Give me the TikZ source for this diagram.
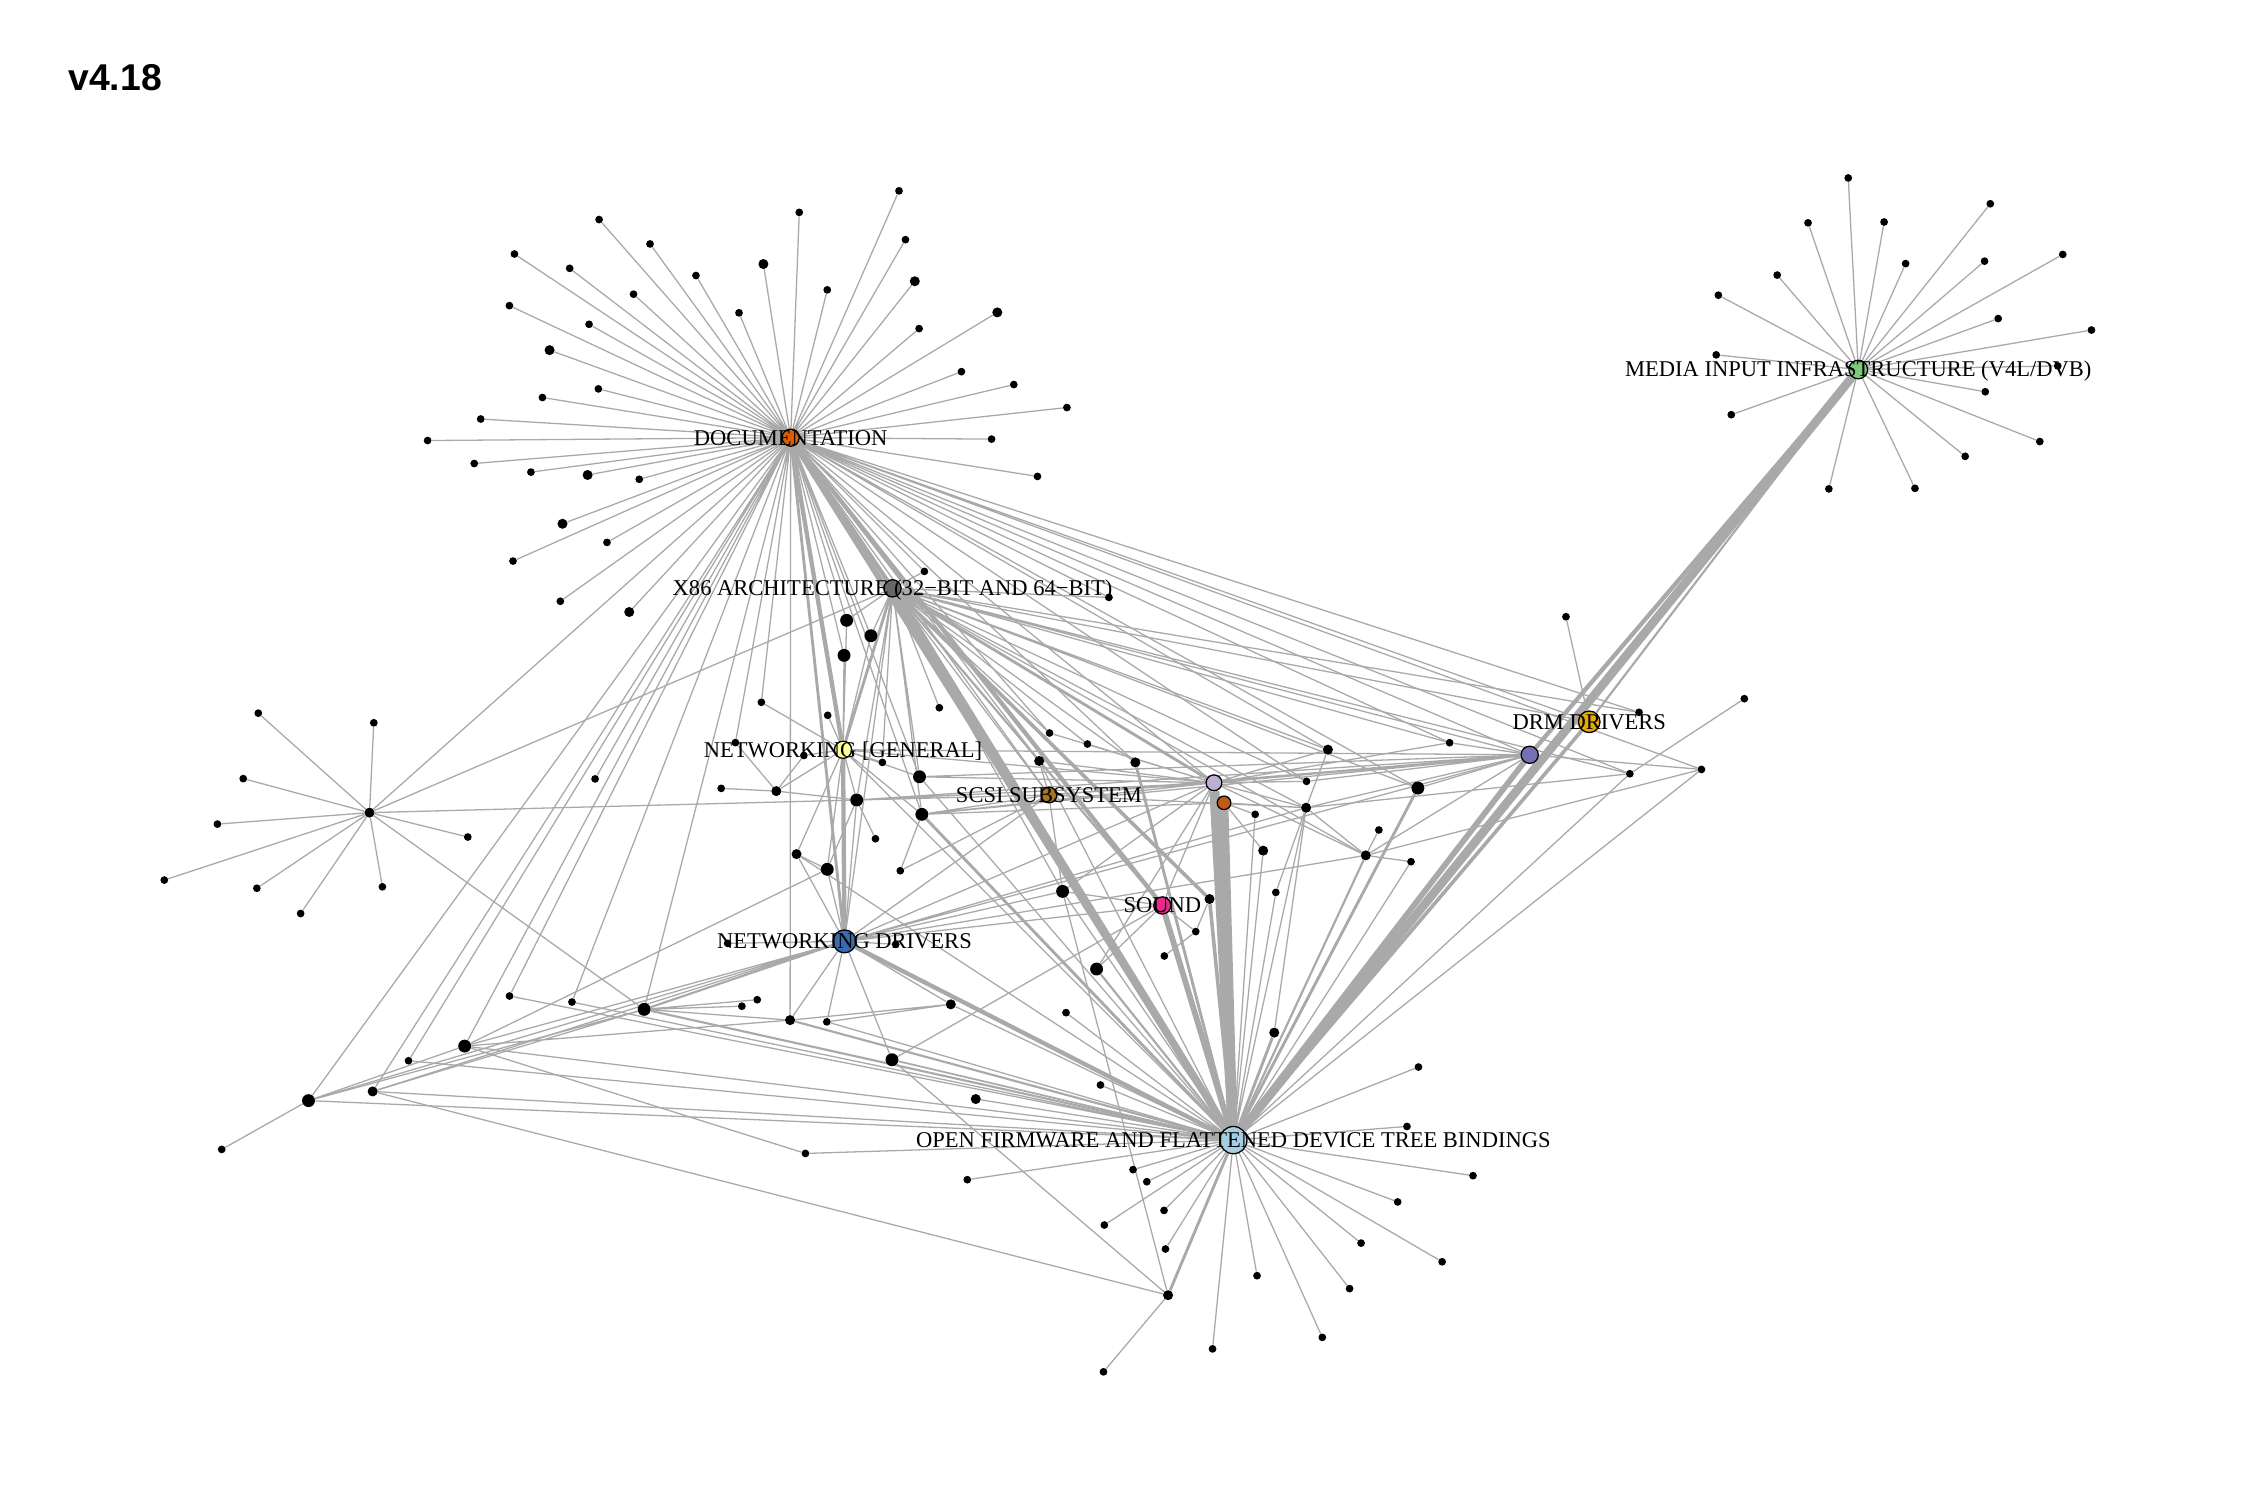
\documentclass[tikz,border=0pt]{standalone}
\usepackage{fontspec}
\setmainfont{Liberation Serif}
\newfontfamily\titlefont{Liberation Sans}
\usetikzlibrary{backgrounds}

\definecolor{edgegrey}{HTML}{A9A9A9}
\definecolor{docorange}{HTML}{D95F02}
\definecolor{x86grey}{HTML}{666666}
\definecolor{netgyellow}{HTML}{FFFF99}
\definecolor{scsibrown}{HTML}{A6761D}
\definecolor{soundpink}{HTML}{E7298A}
\definecolor{netdblue}{HTML}{386CB0}
\definecolor{oflightblue}{HTML}{A6CEE3}
\definecolor{drmgold}{HTML}{E6AB02}
\definecolor{mediagreen}{HTML}{7FC97F}
\definecolor{lilacpurple}{HTML}{BEAED4}
\definecolor{rustorange}{HTML}{BF5B17}
\definecolor{slatepurple}{HTML}{7570B3}

\tikzset{
  dot/.style={circle, fill=black, inner sep=0pt, minimum size=5.4pt},
  middot/.style={dot, minimum size=7pt},
  bigdot/.style={dot, minimum size=9pt},
  hub/.style={circle, draw=black, line width=0.9pt, inner sep=0pt},
  wire/.style={draw=edgegrey, line width=0.9pt},
  lab/.style={font=\fontsize{15.7}{18}\selectfont, inner sep=0pt, text height=10.4pt, text depth=0pt}
}

\begin{document}
\begin{tikzpicture}[x=1pt, y=-1pt]
\useasboundingbox (0,0) rectangle (1568,1045);

\node[anchor=west, inner sep=0pt, text height=18.6pt, text depth=0pt, font=\titlefont\bfseries\fontsize{26}{30}\selectfont] (ver) at (47.5,54) {v4.18};

% hubs
\node[hub, fill=docorange, minimum size=12pt] (doc) at (551,305) {};
\node[hub, fill=x86grey, minimum size=12pt] (xarch) at (622,410) {};
\node[hub, fill=netgyellow, minimum size=12pt] (netg) at (587.5,522.5) {};
\node[hub, fill=scsibrown, minimum size=11pt] (scsi) at (731,554) {};
\node[hub, fill=soundpink, minimum size=12pt] (sound) at (810,631) {};
\node[hub, fill=netdblue, minimum size=16pt] (netd) at (588.5,656) {};
\node[hub, fill=oflightblue, minimum size=19pt] (ofw) at (859.5,794.5) {};
\node[hub, fill=drmgold, minimum size=15pt] (drm) at (1107.5,503) {};
\node[hub, fill=mediagreen, minimum size=13pt] (media) at (1295,257.5) {};
\node[hub, fill=lilacpurple, minimum size=11pt] (lilac) at (846,545.5) {};
\node[hub, fill=rustorange, minimum size=9.5pt] (rust) at (853,559.5) {};
\node[hub, fill=slatepurple, minimum size=12pt] (purp) at (1066,526) {};
\node[middot] (lhub) at (257.5,566.3) {};

% documentation leaves
\node[dot] (d1) at (626.5,133) {};
\node[dot] (d2) at (557,148) {};
\node[dot] (d3) at (417.5,153) {};
\node[dot] (d4) at (453,170) {};
\node[dot] (d5) at (358.5,177) {};
\node[dot] (d6) at (397,187) {};
\node[dot] (d7) at (631,167) {};
\node[middot] (d8) at (532,184) {};
\node[dot] (d9) at (485,192) {};
\node[middot] (d10) at (637.5,196) {};
\node[dot] (d11) at (576.5,202) {};
\node[dot] (d12) at (441.5,205) {};
\node[dot] (d13) at (355,213) {};
\node[dot] (d14) at (515,218) {};
\node[middot] (d15) at (695,217.7) {};
\node[dot] (d16) at (640.5,229) {};
\node[dot] (d17) at (410.5,226) {};
\node[middot] (d18) at (383,244) {};
\node[dot] (d19) at (670,259) {};
\node[dot] (d20) at (706.5,268) {};
\node[dot] (d21) at (417,271) {};
\node[dot] (d22) at (378,277) {};
\node[dot] (d23) at (743.5,284) {};
\node[dot] (d24) at (335,292) {};
\node[dot] (d25) at (298,307) {};
\node[dot] (d26) at (691,306) {};
\node[dot] (d27) at (330.5,323) {};
\node[dot] (d28) at (370,329) {};
\node[middot] (d29) at (409.5,331) {};
\node[dot] (d30) at (445.5,334) {};
\node[dot] (d31) at (723,332) {};
\node[middot] (d32) at (392,365) {};
\node[dot] (d33) at (423,378) {};
\node[dot] (d34) at (357.5,391) {};
\node[dot] (d35) at (390.5,419) {};
\node[middot] (d36) at (438.5,426.5) {};

% media leaves
\node[dot] (v1) at (1288,124) {};
\node[dot] (v2) at (1387,142) {};
\node[dot] (v3) at (1260,155.3) {};
\node[dot] (v4) at (1313,154.7) {};
\node[dot] (v5) at (1328,183.7) {};
\node[dot] (v6) at (1383,182) {};
\node[dot] (v7) at (1437.5,177.3) {};
\node[dot] (v8) at (1238.5,191.7) {};
\node[dot] (v9) at (1197.5,205.7) {};
\node[dot] (v10) at (1392.5,222) {};
\node[dot] (v11) at (1457.5,230) {};
\node[dot] (v12) at (1196,247.3) {};
\node[dot] (v13) at (1434,255) {};
\node[dot] (v14) at (1206.5,289) {};
\node[dot] (v15) at (1383.5,273) {};
\node[dot] (v16) at (1421.5,307.7) {};
\node[dot] (v17) at (1369.5,318) {};
\node[dot] (v18) at (1274.5,340.7) {};
\node[dot] (v19) at (1334.5,340.3) {};

% left star leaves
\node[dot] (l1) at (180,497) {};
\node[dot] (l2) at (260.5,503.7) {};
\node[dot] (l3) at (169.5,542.6) {};
\node[dot] (l4) at (151.5,574.3) {};
\node[dot] (l5) at (326,583.3) {};
\node[dot] (l6) at (114.5,613.3) {};
\node[dot] (l7) at (179,619) {};
\node[dot] (l8) at (266.5,618) {};
\node[dot] (l9) at (209.5,636.6) {};

% open firmware leaves
\node[dot] (o1) at (988.5,743.6) {};
\node[dot] (o2) at (980.5,785) {};
\node[dot] (o3) at (1026.5,819.3) {};
\node[dot] (o4) at (789.6,815.1) {};
\node[dot] (o5) at (799.2,823.5) {};
\node[dot] (o6) at (974,837.6) {};
\node[dot] (o7) at (811.2,843.5) {};
\node[dot] (o8) at (948.5,866.3) {};
\node[dot] (o9) at (1005,879.3) {};
\node[dot] (o10) at (812.2,870.4) {};
\node[dot] (o11) at (876,889) {};
\node[dot] (o12) at (940.5,898) {};
\node[dot] (o13) at (921.5,932) {};
\node[dot] (o14) at (845,940) {};
\node[dot] (o15) at (674.1,822.1) {};
\node[dot] (o16) at (769.6,853.7) {};

% shared nodes
\node[dot] (c1) at (644.2,398.2) {};
\node[dot] (c2) at (772.8,416.3) {};
\node[bigdot] (c3) at (590,432.3) {};
\node[bigdot] (c4) at (606.9,443) {};
\node[bigdot] (c5) at (588.2,456.7) {};
\node[dot] (c6) at (530.6,489.4) {};
\node[dot] (c7) at (576.8,498.5) {};
\node[dot] (c8) at (654.6,493.2) {};
\node[dot] (c9) at (731.4,510.8) {};
\node[dot] (c10) at (757.8,518.5) {};
\node[dot] (c11) at (512.5,517.5) {};
\node[dot] (c12) at (560.2,526.5) {};
\node[dot] (c13) at (614.9,531.3) {};
\node[middot] (c14) at (724.2,530.3) {};
\node[middot] (c15) at (791.2,531.3) {};
\node[bigdot] (c16) at (640.8,541.3) {};
\node[dot] (c17) at (502.6,549.4) {};
\node[middot] (c18) at (541,551.3) {};
\node[bigdot] (c19) at (597,557.5) {};
\node[bigdot] (c20) at (642.4,567.5) {};
\node[dot] (c21) at (610.1,584.5) {};
\node[middot] (c22) at (555.1,595.2) {};
\node[bigdot] (c23) at (576.5,605.8) {};
\node[dot] (c24) at (627.4,606.8) {};
\node[bigdot] (c25) at (740.5,621.2) {};
\node[middot] (c26) at (842.9,626.5) {};
\node[dot] (c27) at (833.3,649.2) {};
\node[dot] (c28) at (811.4,666.2) {};
\node[bigdot] (c29) at (764.2,675.3) {};
\node[dot] (c30) at (742.9,705.7) {};
\node[middot] (c31) at (662.6,699.9) {};
\node[dot] (c32) at (517,701.2) {};
\node[dot] (c33) at (527.7,696.7) {};
\node[middot] (c34) at (550.6,710.9) {};
\node[dot] (c35) at (576.2,712.1) {};
\node[bigdot] (c36) at (621.6,738.5) {};
\node[dot] (c37) at (766.9,756.1) {};
\node[middot] (c38) at (680,765.9) {};
\node[dot] (c39) at (561.3,803.8) {};
\node[middot] (c40) at (880.3,592.8) {};
\node[dot] (c41) at (874.7,567.5) {};
\node[dot] (c42) at (910.5,544.5) {};
\node[middot] (c43) at (910.2,562.9) {};
\node[middot] (c44) at (925.4,522.4) {};
\node[bigdot] (c45) at (988.1,549.2) {};
\node[dot] (c46) at (1010.2,517.6) {};
\node[dot] (c47) at (960.9,578.4) {};
\node[middot] (c48) at (951.8,596.1) {};
\node[dot] (c49) at (983.3,600.5) {};
\node[dot] (c50) at (889.1,621.9) {};
\node[middot] (c51) at (888,719.6) {};
\node[dot] (c52) at (1091.3,429.8) {};
\node[dot] (c53) at (1142.2,496.4) {};
\node[dot] (c54) at (1215.6,486.9) {};
\node[dot] (c55) at (1135.8,539.2) {};
\node[dot] (c56) at (1185.7,536.2) {};
\node[dot] (c57) at (355.1,694.1) {};
\node[dot] (c58) at (398.6,698.3) {};
\node[bigdot] (c59) at (448.9,703.4) {};
\node[bigdot] (c60) at (323.8,729) {};
\node[dot] (c61) at (284.7,739.2) {};
\node[middot] (c62) at (259.7,760.6) {};
\node[bigdot] (c63) at (215,767) {};
\node[dot] (c64) at (154.5,801) {};
\node[dot] (c65) at (414.7,542.8) {};
\node[dot] (c66) at (507.1,657.4) {};
\node[dot] (c67) at (624.2,658.1) {};
\node[dot] (c68) at (769,956) {};
\node[middot] (c69) at (814,902.6) {};

\begin{scope}[on background layer]
% documentation star
\draw[wire] (doc) -- (d1) (doc) -- (d2) (doc) -- (d3) (doc) -- (d4) (doc) -- (d5) (doc) -- (d6)
  (doc) -- (d7) (doc) -- (d8) (doc) -- (d9) (doc) -- (d10) (doc) -- (d11) (doc) -- (d12)
  (doc) -- (d13) (doc) -- (d14) (doc) -- (d15) (doc) -- (d16) (doc) -- (d17) (doc) -- (d18)
  (doc) -- (d19) (doc) -- (d20) (doc) -- (d21) (doc) -- (d22) (doc) -- (d23) (doc) -- (d24)
  (doc) -- (d25) (doc) -- (d26) (doc) -- (d27) (doc) -- (d28) (doc) -- (d29) (doc) -- (d30)
  (doc) -- (d31) (doc) -- (d32) (doc) -- (d33) (doc) -- (d34) (doc) -- (d35) (doc) -- (d36);
% media star
\draw[wire] (media) -- (v1) (media) -- (v2) (media) -- (v3) (media) -- (v4) (media) -- (v5)
  (media) -- (v6) (media) -- (v7) (media) -- (v8) (media) -- (v9) (media) -- (v10)
  (media) -- (v11) (media) -- (v12) (media) -- (v13) (media) -- (v14) (media) -- (v15)
  (media) -- (v16) (media) -- (v17) (media) -- (v18) (media) -- (v19);
% left star
\draw[wire] (lhub) -- (l1) (lhub) -- (l2) (lhub) -- (l3) (lhub) -- (l4) (lhub) -- (l5)
  (lhub) -- (l6) (lhub) -- (l7) (lhub) -- (l8) (lhub) -- (l9)
  (lhub) -- (doc) (lhub) -- (xarch) (lhub) -- (c19) (lhub) -- (c59);
% open firmware star
\draw[wire] (ofw) -- (o1) (ofw) -- (o2) (ofw) -- (o3) (ofw) -- (o4) (ofw) -- (o5) (ofw) -- (o6)
  (ofw) -- (o7) (ofw) -- (o8) (ofw) -- (o9) (ofw) -- (o10) (ofw) -- (o11) (ofw) -- (o12)
  (ofw) -- (o13) (ofw) -- (o14) (ofw) -- (o15) (ofw) -- (o16);
% documentation links
\draw[wire] (doc) -- (c1) (doc) -- (c2) (doc) -- (c3) (doc) -- (c4) (doc) -- (c5) (doc) -- (c6)
  (doc) -- (c11) (doc) -- (c15) (doc) -- (c16) (doc) -- (c20) (doc) -- (c34) (doc) -- (c44)
  (doc) -- (c45) (doc) -- (c46) (doc) -- (c53) (doc) -- (c55) (doc) -- (c56) (doc) -- (c57)
  (doc) -- (c58) (doc) -- (c59) (doc) -- (c60) (doc) -- (c61) (doc) -- (c62) (doc) -- (c63)
  (doc) -- (c65) (doc) -- (drm) (doc) -- (purp) (doc) -- (lilac) (doc) -- (c14) (doc) -- (scsi)
  (doc) -- (c9) (doc) -- (c42);
% x86 links
\draw[wire] (xarch) -- (c1) (xarch) -- (c2) (xarch) -- (c3) (xarch) -- (c4) (xarch) -- (c8)
  (xarch) -- (c9) (xarch) -- (c10) (xarch) -- (c13) (xarch) -- (c14) (xarch) -- (c15)
  (xarch) -- (c16) (xarch) -- (c19) (xarch) -- (c20) (xarch) -- (c25) (xarch) -- (c42)
  (xarch) -- (c43) (xarch) -- (c44) (xarch) -- (c45) (xarch) -- (c46) (xarch) -- (c48)
  (xarch) -- (c53) (xarch) -- (c55) (xarch) -- (drm) (xarch) -- (purp) (xarch) -- (scsi)
  (xarch) -- (netd);
% networking links
\draw[wire] (netg) -- (c3) (netg) -- (c4) (netg) -- (c5) (netg) -- (c6) (netg) -- (c7)
  (netg) -- (c12) (netg) -- (c13) (netg) -- (c16) (netg) -- (c18) (netg) -- (c19)
  (netg) -- (c20) (netg) -- (c22) (netg) -- (c23) (netg) -- (lilac) (netg) -- (ofw) (netg) -- (purp);
\draw[wire] (netd) -- (c19) (netd) -- (c22) (netd) -- (c23) (netd) -- (c25) (netd) -- (c31)
  (netd) -- (c34) (netd) -- (c35) (netd) -- (c36) (netd) -- (c60) (netd) -- (c62)
  (netd) -- (c63) (netd) -- (c66) (netd) -- (c67) (netd) -- (lilac) (netd) -- (purp)
  (netd) -- (c43) (netd) -- (c48) (netd) -- (scsi) (netd) -- (sound);
% open firmware links
\draw[wire] (ofw) -- (c14) (ofw) -- (c16) (ofw) -- (c22) (ofw) -- (c25) (ofw) -- (c30)
  (ofw) -- (c31) (ofw) -- (c35) (ofw) -- (c37) (ofw) -- (c38) (ofw) -- (c39) (ofw) -- (c40)
  (ofw) -- (c41) (ofw) -- (c43) (ofw) -- (c49) (ofw) -- (c50) (ofw) -- (c55) (ofw) -- (c56)
  (ofw) -- (c57) (ofw) -- (c58) (ofw) -- (c60) (ofw) -- (c61) (ofw) -- (c62) (ofw) -- (c63);
% middle links
\draw[wire] (scsi) -- (c19) (scsi) -- (c20) (scsi) -- (c14) (scsi) -- (lilac) (scsi) -- (c43)
  (scsi) -- (c24) (scsi) -- (c25)
  (sound) -- (c36) (sound) -- (c27) (sound) -- (c29) (sound) -- (lilac) (sound) -- (c25)
  (lilac) -- (c9) (lilac) -- (c10) (lilac) -- (c14) (lilac) -- (c16) (lilac) -- (c19)
  (lilac) -- (c20) (lilac) -- (c25) (lilac) -- (c29) (lilac) -- (c42) (lilac) -- (c43)
  (lilac) -- (c44) (lilac) -- (c46) (lilac) -- (c48) (lilac) -- (purp)
  (rust) -- (c40) (rust) -- (c41) (rust) -- (c43) (rust) -- (c20)
  (purp) -- (c16) (purp) -- (c19) (purp) -- (c20) (purp) -- (c42) (purp) -- (c43)
  (purp) -- (c45) (purp) -- (c46) (purp) -- (c48) (purp) -- (c56) (purp) -- (scsi)
  (c43) -- (c44) (c43) -- (c48) (c43) -- (c50) (c43) -- (c51) (c43) -- (c55)
  (c48) -- (c47) (c48) -- (c49) (c48) -- (c56)
  (c18) -- (c11) (c18) -- (c12) (c18) -- (c17) (c18) -- (c19)
  (c19) -- (c21) (c19) -- (c23) (c22) -- (c23) (c23) -- (c60) (c20) -- (c24)
  (c59) -- (c32) (c59) -- (c33) (c59) -- (c34) (c59) -- (c62) (c59) -- (c63)
  (c60) -- (c34) (c60) -- (c39) (c60) -- (c63) (c63) -- (c64)
  (c69) -- (c25) (c69) -- (c36) (c69) -- (c62) (c69) -- (c68)
  (c31) -- (c34) (c31) -- (c35) (c54) -- (c55) (c27) -- (c26) (c27) -- (c28)
  (drm) -- (c52);
% heavy links
\draw[wire, line width=3pt] (doc) -- (xarch);
\draw[wire, line width=3pt] (doc) -- (netg);
\draw[wire, line width=2pt] (doc) -- (netd);
\draw[wire, line width=4pt] (doc) -- (ofw);
\draw[wire, line width=5pt] (xarch) -- (ofw);
\draw[wire, line width=3pt] (doc) -- (sound);
\draw[wire, line width=4pt] (sound) -- (ofw);
\draw[wire, line width=2pt] (xarch) -- (netg);
\draw[wire, line width=1.5pt] (xarch) -- (sound);
\draw[wire, line width=3pt] (netg) -- (netd);
\draw[wire, line width=3pt] (netd) -- (ofw);
\draw[wire, line width=7pt] (lilac) -- (ofw);
\draw[wire, line width=6pt] (rust) -- (ofw);
\draw[wire, line width=6pt] (media) -- (ofw);
\draw[wire, line width=3pt] (media) -- (purp);
\draw[wire, line width=1.5pt] (media) -- (drm);
\draw[wire, line width=4pt] (purp) -- (ofw);
\draw[wire, line width=2.5pt] (drm) -- (ofw);
\draw[wire, line width=2pt] (xarch) -- (lilac);
\draw[wire, line width=2.5pt] (xarch) -- (c26);
\draw[wire, line width=2.5pt] (c26) -- (ofw);
\draw[wire, line width=2pt] (c15) -- (ofw);
\draw[wire, line width=2pt] (c20) -- (ofw);
\draw[wire, line width=2pt] (c45) -- (ofw);
\draw[wire, line width=1.5pt] (c48) -- (ofw);
\draw[wire, line width=2pt] (c51) -- (ofw);
\draw[wire, line width=1.5pt] (c59) -- (ofw);
\draw[wire, line width=1.5pt] (c59) -- (netd);
\draw[wire, line width=1.5pt] (c34) -- (ofw);
\draw[wire, line width=1.2pt] (c36) -- (ofw);
\draw[wire, line width=1.5pt] (c29) -- (ofw);
\draw[wire, line width=2pt] (c69) -- (ofw);
\end{scope}

% labels
\node[lab] (doclab) at (doc) {DOCUMENTATION};
\node[lab] (xarchlab) at (xarch) {X86 ARCHITECTURE (32−BIT AND 64−BIT)};
\node[lab] (netglab) at (netg) {NETWORKING [GENERAL]};
\node[lab] (scsilab) at (scsi) {SCSI SUBSYSTEM};
\node[lab] (soundlab) at (sound) {SOUND};
\node[lab] (netdlab) at (netd) {NETWORKING DRIVERS};
\node[lab] (ofwlab) at (ofw) {OPEN FIRMWARE AND FLATTENED DEVICE TREE BINDINGS};
\node[lab] (drmlab) at (drm) {DRM DRIVERS};
\node[lab] (medialab) at (media) {MEDIA INPUT INFRASTRUCTURE (V4L/DVB)};
\end{tikzpicture}
\end{document}
